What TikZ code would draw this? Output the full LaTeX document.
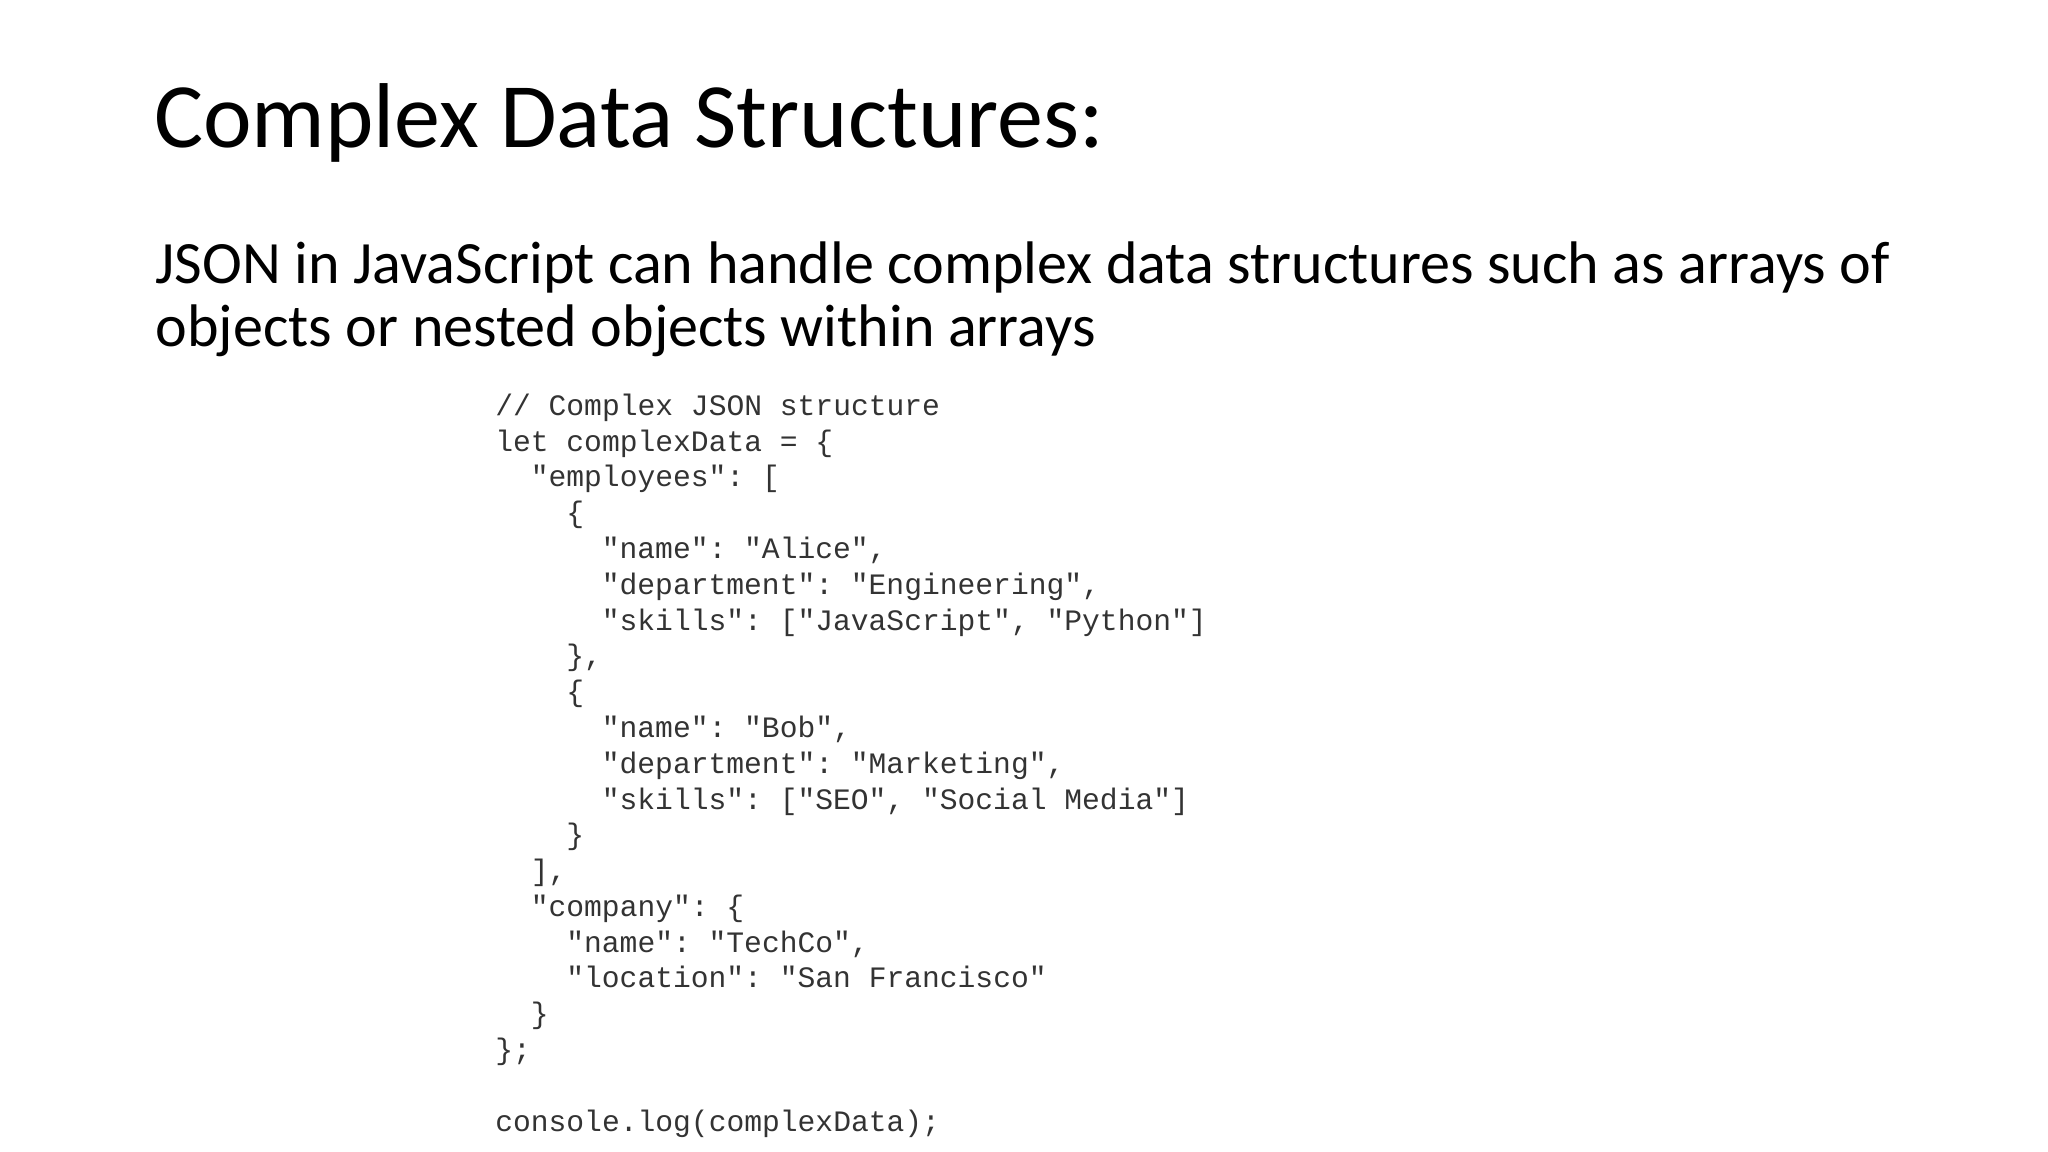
\documentclass[tikz,border=0pt]{standalone}
\usepackage{fontspec}
\setmainfont{Carlito}
\setmonofont{Liberation Mono}
\definecolor{codegray}{HTML}{333333}
\begin{document}
\begin{tikzpicture}[x=1pt,y=-1pt,
  title/.style={anchor=base west,inner sep=0pt,font=\fontsize{70.5}{78}\selectfont},
  body/.style={anchor=base west,inner sep=0pt,font=\fontsize{46}{48}\selectfont},
  code/.style={anchor=base west,inner sep=0pt,text=codegray,font=\ttfamily\fontsize{22.7}{27}\selectfont}]
\useasboundingbox (0,0) rectangle (1568,882);
\node[title] (t) at (118,113) {Complex Data Structures:};
\node[body] (b1) at (119,217) {JSON in JavaScript can handle complex data structures such as arrays of};
\node[body] (b2) at (119,265) {objects or nested objects within arrays};
\def\ind{27.2}
\foreach \i/\n/\l in {
 0/0/{// Complex JSON structure},
 1/0/{let complexData = \{},
 2/1/{"employees": [},
 3/2/{\{},
 4/3/{"name": "Alice",},
 5/3/{"department": "Engineering",},
 6/3/{"skills": ["JavaScript", "Python"]},
 7/2/{\},},
 8/2/{\{},
 9/3/{"name": "Bob",},
 10/3/{"department": "Marketing",},
 11/3/{"skills": ["SEO", "Social Media"]},
 12/2/{\}},
 13/1/{],},
 14/1/{"company": \{},
 15/2/{"name": "TechCo",},
 16/2/{"location": "San Francisco"},
 17/1/{\}},
 18/0/{\};},
 20/0/{console.log(complexData);}}
 {\node[code] (c\i) at ({379+\n*\ind},{318+\i*27.4}) {\l};}
\end{tikzpicture}
\end{document}
